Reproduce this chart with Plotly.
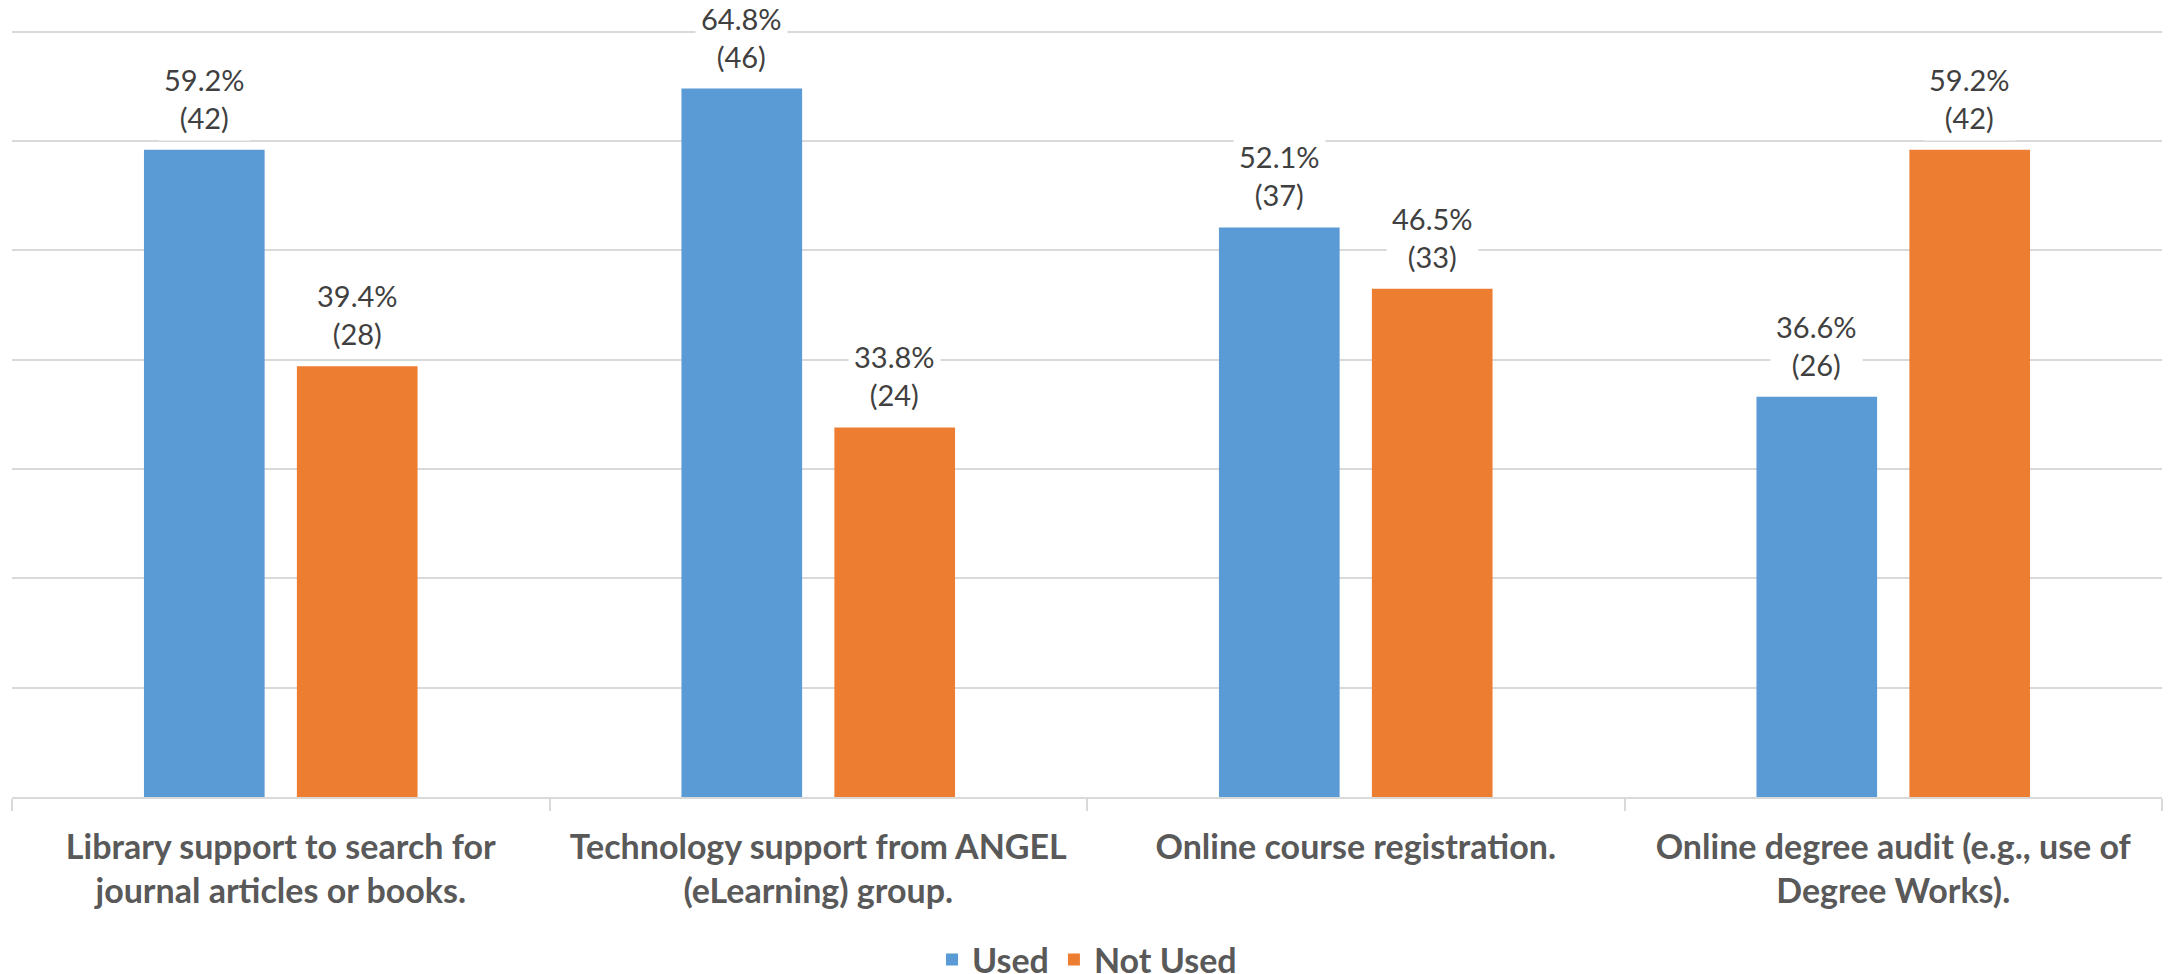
import plotly.graph_objects as go

categories = [
    "Library support to search for<br>journal articles or books.",
    "Technology support from ANGEL<br>(eLearning) group.",
    "Online course registration.",
    "Online degree audit (e.g., use of<br>Degree Works).",
]
used_pct = [59.2, 64.8, 52.1, 36.6]
used_n = [42, 46, 37, 26]
notused_pct = [39.4, 33.8, 46.5, 59.2]
notused_n = [28, 24, 33, 42]

series = [
    ("Used", used_pct, used_n, "#5B9BD5"),
    ("Not Used", notused_pct, notused_n, "#ED7D31"),
]

BARGAP = 0.431
GROUPGAP = 0.211
FONT = "Lato"

fig = go.Figure()
for name, vals, ns, color in series:
    fig.add_trace(go.Bar(
        name=name, x=categories, y=vals,
        marker=dict(color=color, line=dict(width=0)),
        hoverinfo="skip",
    ))

slot = (1 - BARGAP) / len(series)
annotations = []
for si, (name, vals, ns, color) in enumerate(series):
    off = -(1 - BARGAP) / 2 + slot * (si + 0.5)
    for i, (v, n) in enumerate(zip(vals, ns)):
        annotations.append(dict(
            x=i + off, y=v, xref="x", yref="y",
            text=f"{v:.1f}%<br>({n})", showarrow=False,
            yanchor="bottom", xanchor="center", yshift=9,
            bgcolor="white", borderpad=5,
            font=dict(family=FONT, size=29, color="#404040"),
        ))

fig.update_layout(
    width=2165, height=966,
    margin=dict(l=4, r=11, t=21, b=177, autoexpand=False),
    paper_bgcolor="white", plot_bgcolor="white",
    barmode="group", bargap=BARGAP, bargroupgap=GROUPGAP,
    font=dict(family=FONT, color="#595959"),
    showlegend=True,
    legend=dict(
        orientation="h", x=0.5, xanchor="center", y=-0.212, yanchor="middle",
        font=dict(family=FONT, size=34, color="#595959", weight="bold"),
        itemwidth=30,
    ),
    annotations=annotations,
)
fig.update_xaxes(
    type="category", automargin=False,
    range=[-0.5, len(categories) - 0.5],
    showline=True, linecolor="#d9d9d9", linewidth=1.5,
    ticks="outside", tickson="boundaries", ticklen=12, tickcolor="#d9d9d9", tickwidth=1.5,
    tickfont=dict(family=FONT, size=34, color="#595959", weight="bold"),
    ticklabelstandoff=19,
    showgrid=False,
)
fig.update_yaxes(
    range=[0, 70.25], tickvals=[10, 20, 30, 40, 50, 60, 70], showticklabels=False,
    automargin=False,
    showgrid=True, gridcolor="#d9d9d9", gridwidth=1.5,
    zeroline=False,
)

fig.write_html("out.html")
